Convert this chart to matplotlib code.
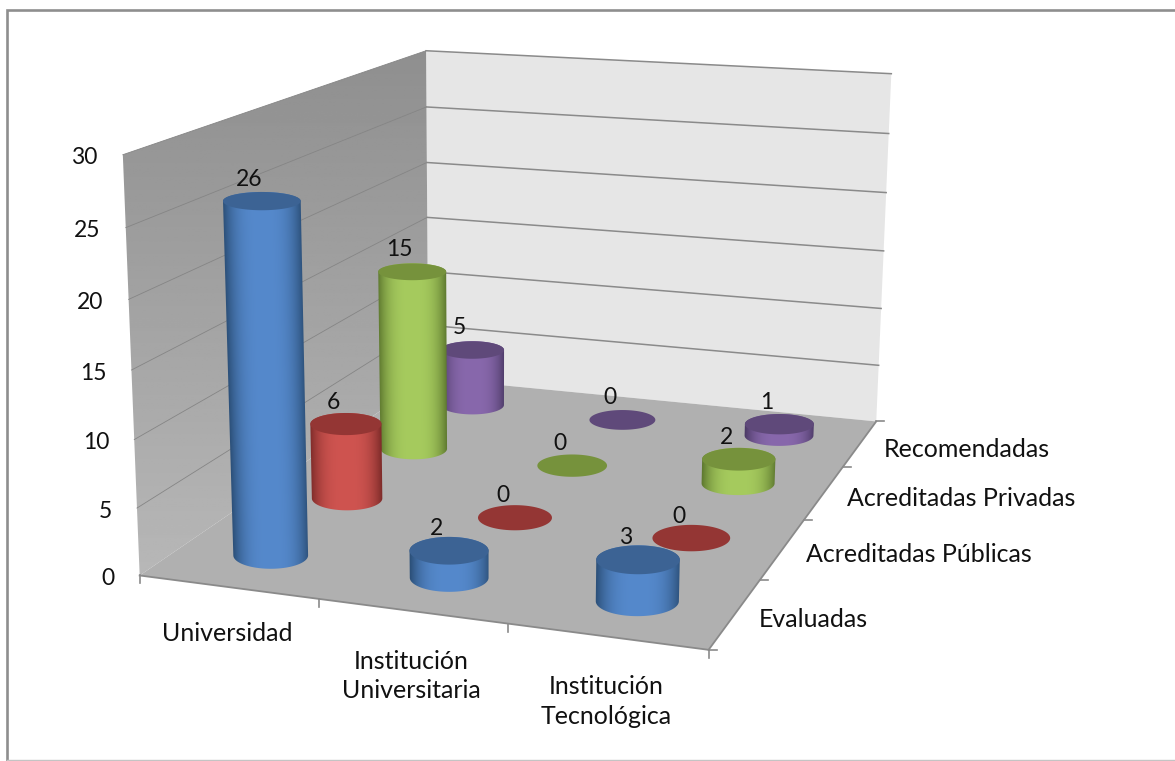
import numpy as np
import matplotlib
matplotlib.use("Agg")
import matplotlib.pyplot as plt
from matplotlib.colors import to_rgb
from matplotlib.patches import Polygon

# Chart values
categories = ["Universidad", "Institución\nUniversitaria", "Institución\nTecnológica"]
series_names = ["Evaluadas", "Acreditadas Públicas", "Acreditadas Privadas", "Recomendadas"]
evaluadas = [26, 2, 3]
publicas = [6, 0, 0]
privadas = [15, 0, 2]
recomendadas = [5, 0, 1]
z_ticks = [0, 5, 10, 15, 20, 25, 30]

series_values = [evaluadas, publicas, privadas, recomendadas]
body_colors = ["#5589cc", "#cf5450", "#a6cb5e", "#8868ac"]
top_colors = ["#3c6394", "#943634", "#76923c", "#5f497a"]
edge_colors = ["#2c5079", "#7f2c2a", "#5f7a30", "#4c3a66"]

plt.rcParams["font.family"] = ["Lato", "DejaVu Sans"]

# Camera fitted to the corners of the plot box (world x, y, z -> pixel)
world = np.array([[0, 0, 0], [3, 0, 0], [3, 4, 0], [0, 4, 0], [0, 0, 30], [0, 4, 30], [3, 4, 30]], float)
pixel = np.array([[141, 576], [708, 650], [877, 421], [427, 378], [122, 154], [427, 51], [891, 74]], float)
rows, rhs = [], []
for (wx, wy, wz), (px, py) in zip(world, pixel):
    rows.append([wx, wy, wz, 1, 0, 0, 0, 0, -px * wx, -px * wy, -px * wz])
    rows.append([0, 0, 0, 0, wx, wy, wz, 1, -py * wx, -py * wy, -py * wz])
    rhs += [px, py]
cam = np.append(np.linalg.lstsq(np.array(rows), np.array(rhs), rcond=None)[0], 1).reshape(3, 4)


def project(x, y, z):
    x, y, z = np.broadcast_arrays(x, y, z)
    h = cam @ np.vstack([x.ravel(), y.ravel(), z.ravel(), np.ones(x.size)])
    return np.column_stack([h[0] / h[2], h[1] / h[2]])


def pt(x, y, z):
    return project(x, y, z)[0]


def disc(cx, cy, z, j):
    # screen-aligned ellipse of a cylinder end: flatter when higher up and further back
    c = pt(cx, cy, z)
    a = abs(pt(cx + rx, cy, z)[0] - pt(cx - rx, cy, z)[0]) / 2
    b = a * (0.36 - 0.02 * j - 0.0048 * z)
    return c, a, b


fig = plt.figure(figsize=(11.75, 7.61), dpi=100)
ax = fig.add_axes([0, 0, 1, 1])
ax.set_xlim(0, 1175)
ax.set_ylim(761, 0)
ax.set_autoscale_on(False)
ax.axis("off")

# Outer frame
ax.plot([1175, 7, 7], [9.5, 9.5, 761], color="#8e8e8e", lw=1.9, solid_joinstyle="miter")
ax.plot([7, 1175], [760, 760], color="#c4c4c4", lw=1)

# Walls and floor
left_wall = project([0, 0, 0, 0], [0, 4, 4, 0], [0, 0, 30, 30])
back_wall = project([0, 3, 3, 0], [4, 4, 4, 4], [0, 0, 30, 30])
floor = project([0, 3, 3, 0], [0, 0, 4, 4], [0, 0, 0, 0])
ax.add_patch(Polygon(back_wall, fc="#e6e6e6", ec="none", zorder=1))
wall_patch = Polygon(left_wall, fc="none", ec="none", zorder=1)
ax.add_patch(wall_patch)
grad = ax.imshow(np.linspace(0.56, 0.72, 256).reshape(-1, 1), extent=[100, 440, 580, 50], cmap="gray",
                 vmin=0, vmax=1, aspect="auto", zorder=1)
grad.set_clip_path(wall_patch)
ax.add_patch(Polygon(floor, fc="#b0b0b0", ec="none", zorder=2))

# Gridlines
for z in z_ticks[1:]:
    ax.plot(*project([0, 0], [0, 4], [z, z]).T, color="#858585", lw=0.6, zorder=2)
    ax.plot(*project([0, 3], [4, 4], [z, z]).T, color="#8a8a8a", lw=1.1, zorder=2)

# Axis edges and tick marks
ax.plot(*project([0, 3], [0, 0], [0, 0]).T, color="#8a8a8a", lw=1.3, zorder=3)
ax.plot(*project([3, 3], [0, 4], [0, 0]).T, color="#8a8a8a", lw=1.3, zorder=3)
for i in range(len(categories) + 1):
    p = pt(i, 0, 0)
    ax.plot([p[0], p[0]], [p[1], p[1] + 8], color="#8a8a8a", lw=1.2, zorder=3)
for j in range(len(series_names) + 1):
    p = pt(3, j, 0)
    ax.plot([p[0], p[0] + 8], [p[1], p[1]], color="#8a8a8a", lw=1.2, zorder=3)

# Cylinders, back to front
rx = 0.215
theta = np.linspace(0, 2 * np.pi, 145)
order = 10
for j in range(len(series_names) - 1, -1, -1):
    for i in range(len(categories)):
        v = series_values[j][i]
        cx, cy = i + 0.5, j + 0.5
        ct, at, bt = disc(cx, cy, v, j)
        top = np.column_stack([ct[0] + at * np.cos(theta), ct[1] + bt * np.sin(theta)])
        if v > 0:
            cb, ab, bb = disc(cx, cy, 0, j)
            base = np.column_stack([cb[0] + ab * np.cos(theta), cb[1] + bb * np.sin(theta)])
            # outline: top-right to bottom-right, lower arc of the base, back to top-left, over the top
            outline = np.vstack([base[:73], top[72:], ])
            body = Polygon(outline, fc="none", ec="none", zorder=order)
            ax.add_patch(body)
            # shade runs across the cylinder, following its slight lean
            x0, x1 = min(ct[0] - at, cb[0] - ab) - 2, max(ct[0] + at, cb[0] + ab) + 2
            y0, y1 = ct[1] - bt - 2, cb[1] + bb + 2
            xx, yy = np.meshgrid(np.linspace(x0, x1, 240), np.linspace(y0, y1, 80))
            f = np.clip((yy - ct[1]) / (cb[1] - ct[1]), 0, 1)
            t = np.clip(np.abs(xx - (ct[0] + f * (cb[0] - ct[0]))) / (at + f * (ab - at)), 0, 1) ** 3
            img = (1 - t[..., None]) * np.array(to_rgb(body_colors[j])) + t[..., None] * np.array(to_rgb(edge_colors[j]))
            shade = ax.imshow(img, extent=[x0, x1, y1, y0], aspect="auto", zorder=order, interpolation="bilinear")
            shade.set_clip_path(body)
        ax.add_patch(Polygon(top, fc=top_colors[j], ec="none", zorder=order + 1))
        ax.text(ct[0] - 12.5, ct[1] - 22, str(v), ha="center", va="center", fontsize=16.5, color="#111111", zorder=50)
        order += 2

# Axis labels
for z in z_ticks:
    p = pt(0, 0, z)
    ax.text(p[0] - 25, p[1] + 3, str(z), ha="right", va="center", fontsize=16.5, color="#111111")
for i, name in enumerate(categories):
    p = pt(i + 0.5, 0, 0)
    ax.text(p[0] - 1, p[1] + 46 + 19 * name.count("\n"), name, ha="center", va="center", fontsize=18,
            color="#111111", linespacing=1.33)
for j, name in enumerate(series_names):
    p = pt(3, j + 0.5, 0)
    ax.text(p[0] + 23.5, p[1] + 6, name, ha="left", va="center", fontsize=18, color="#111111")

fig.savefig("out.png", dpi=100)
